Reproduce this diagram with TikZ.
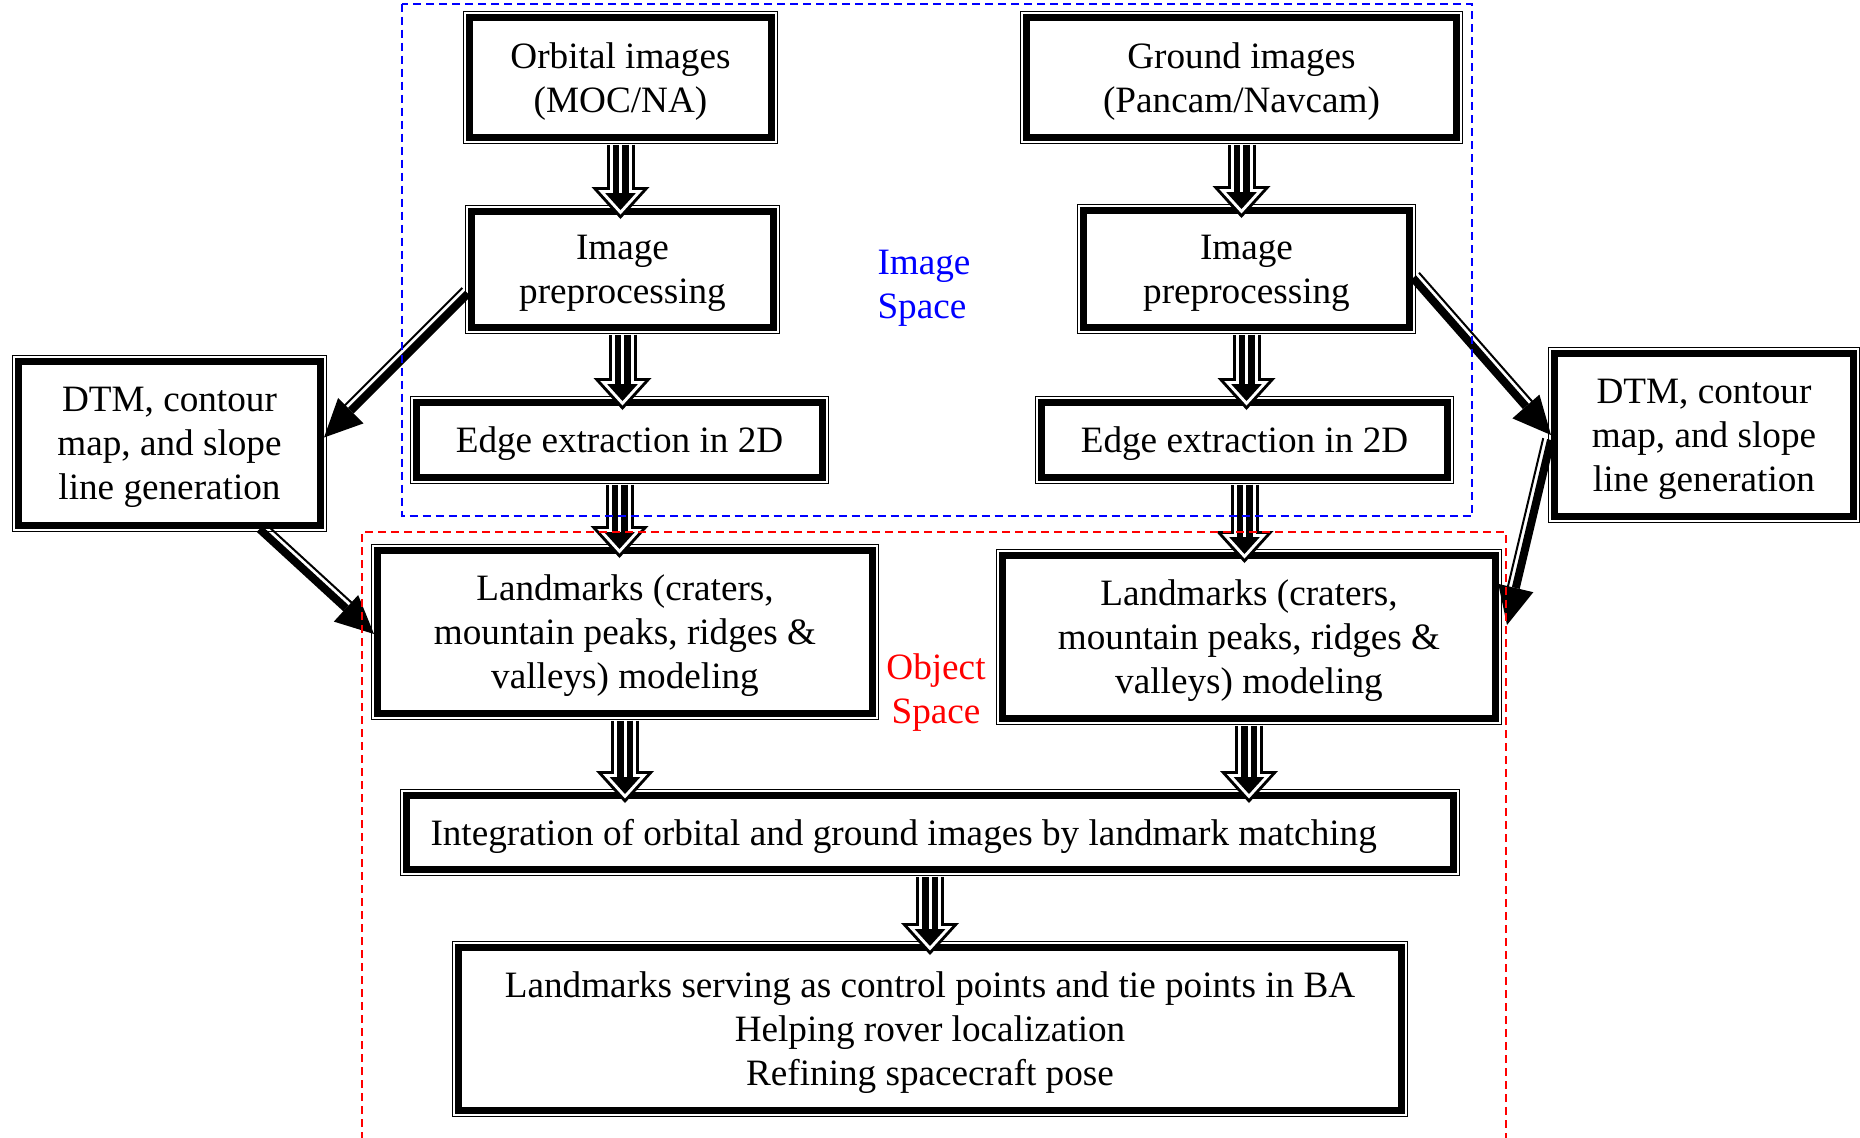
\documentclass[tikz,border=0pt]{standalone}
\usepackage{fontspec}
\setmainfont{Liberation Serif}
\usetikzlibrary{arrows.meta,calc,positioning}
\definecolor{SpaceImg}{HTML}{0000FF}
\definecolor{SpaceObj}{HTML}{FF0000}
\tikzset{
  procbox/.style={draw=black, line width=3.5pt, fill=white,
             preaction={draw=black, line width=6.5pt},
             preaction={draw=white, line width=5.5pt},
             font=\fontsize{18.6}{22}\selectfont, align=center, inner sep=0pt,
             text depth=-1pt},
  spacelabel/.style={font=\fontsize{18.6}{22}\selectfont, text=#1, inner sep=0pt},
  spacebox/.style={draw=#1, line width=1pt, dash pattern=on 4pt off 2.5pt},
  vflow/.style={draw=white, line width=1.5pt, shorten >=13pt,
    preaction={draw=black, line width=14pt, shorten >=0pt,
               -{Triangle[length=16pt,width=29pt,line width=0pt]}},
    preaction={draw=white, line width=11pt, shorten >=2.25pt,
               -{Triangle[length=12.25pt,width=22.25pt,line width=0pt]}},
    preaction={draw=black, line width=8pt, shorten >=4.5pt,
               -{Triangle[length=8.5pt,width=15.4pt,line width=0pt]}}},
  dflow/.style={draw=black, line width=4pt,
               -{Triangle[length=19pt,width=18pt,line width=0pt]}},
  drail/.style={draw=black, line width=1pt, shorten >=17pt},
}

\begin{document}
\begin{tikzpicture}[x=0.5pt, y=-0.5pt]
\useasboundingbox (0,0) rectangle (1860,1137);
% ---------- image space boxes
\node[procbox, minimum width=151pt, minimum height=60pt] (orbital) at (620.5,77.5) {Orbital images\\(MOC/NA)};
\node[procbox, minimum width=215pt, minimum height=60pt] (ground) at (1241.5,77.5) {Ground images\\(Pancam/Navcam)};
\node[procbox, minimum width=151pt, minimum height=58pt] (prepL) at (622.5,269.5) {Image\\preprocessing};
\node[procbox, minimum width=163pt, minimum height=58.5pt] (prepR) at (1246.5,269) {Image\\preprocessing};
\node[procbox, minimum width=203pt, minimum height=37.5pt] (edgeL) at (619.5,440) {Edge extraction in 2D};
\node[procbox, minimum width=203pt, minimum height=37.5pt] (edgeR) at (1244.5,440) {Edge extraction in 2D};
% ---------- side products
\node[procbox, minimum width=151pt, minimum height=82pt] (dtmL) at (169.5,443.5) {DTM, contour\\map, and slope\\line generation};
\node[procbox, minimum width=149.5pt, minimum height=81.5pt] (dtmR) at (1704,435) {DTM, contour\\map, and slope\\line generation};
% ---------- object space boxes
\node[procbox, minimum width=247.5pt, minimum height=81.5pt] (landL) at (625,632) {Landmarks (craters,\\mountain peaks, ridges \&\\valleys) modeling};
\node[procbox, minimum width=246.5pt, minimum height=81.5pt] (landR) at (1249,637) {Landmarks (craters,\\mountain peaks, ridges \&\\valleys) modeling};
\node[procbox, minimum width=523.5pt, minimum height=37pt, text width=499.5pt, align=flush left, inner xsep=12pt] (integ) at (930,832.5) {Integration of orbital and ground images by landmark matching};
\node[procbox, minimum width=471.5pt, minimum height=81.5pt] (result) at (930,1029) {Landmarks serving as control points and tie points in BA\\Helping rover localization\\Refining spacecraft pose};
% ---------- space labels
\node[spacelabel=SpaceImg, align=left] (imgspace) at (924,288) {Image\\Space};
\node[spacelabel=SpaceObj, align=center] (objspace) at (936,693) {Object\\Space};
% ---------- main flow
\draw[vflow] ([yshift=-1.75pt]orbital.south) -- ([yshift=-5.5pt]orbital.south |- prepL.north);
\draw[vflow] ([yshift=-1.75pt]prepL.south) -- ([yshift=-5.5pt]prepL.south |- edgeL.north);
\draw[vflow] ([yshift=-1.75pt]edgeL.south) -- ([yshift=-5.5pt]edgeL.south |- landL.north);
\draw[vflow] ([yshift=-1.75pt]ground.south) -- ([yshift=-5.5pt]ground.south |- prepR.north);
\draw[vflow] ([yshift=-1.75pt]prepR.south) -- ([yshift=-5.5pt]prepR.south |- edgeR.north);
\draw[vflow] ([yshift=-1.75pt]edgeR.south) -- ([yshift=-5.5pt]edgeR.south |- landR.north);
\draw[vflow] ([yshift=-1.75pt]landL.south) -- ([yshift=-5.5pt]landL.south |- integ.north);
\draw[vflow] ([yshift=-1.75pt]landR.south) -- ([yshift=-5.5pt]landR.south |- integ.north);
\draw[vflow] ([yshift=-1.75pt]integ.south) -- ([yshift=-5.5pt]integ.south |- result.north);
% ---------- DTM branches
\coordinate (a1s) at ([yshift=-12pt]prepL.west);
\coordinate (a1t) at ([yshift=3pt]dtmL.east);
\coordinate (a2s) at ([xshift=45pt]dtmL.south);
\coordinate (a2t) at ([yshift=-1pt]landL.west);
\coordinate (a3s) at ([yshift=-4.5pt]prepR.east);
\coordinate (a3t) at (dtmR.west);
\coordinate (a4s) at ([yshift=-2.5pt]dtmR.west);
\coordinate (a4t) at ([xshift=4pt,yshift=6pt]landR.east);
\draw[dflow] (a1s) -- (a1t);
\draw[drail] ($(a1s)!4pt!-90:(a1t)$) -- ($(a1t)!4pt!90:(a1s)$);
\draw[dflow] (a2s) -- (a2t);
\draw[drail] ($(a2s)!4pt!90:(a2t)$) -- ($(a2t)!4pt!-90:(a2s)$);
\draw[dflow] (a3s) -- (a3t);
\draw[drail] ($(a3s)!4pt!90:(a3t)$) -- ($(a3t)!4pt!-90:(a3s)$);
\draw[dflow] (a4s) -- (a4t);
\draw[drail] ($(a4s)!4pt!-90:(a4t)$) -- ($(a4t)!4pt!90:(a4s)$);
% ---------- image / object space frames
\draw[spacebox=SpaceImg] (402,3.5) rectangle (1472,516);
\draw[spacebox=SpaceObj] (362,1140) -- (362,532) -- (1506,532) -- (1506,1140);
\end{tikzpicture}
\end{document}
